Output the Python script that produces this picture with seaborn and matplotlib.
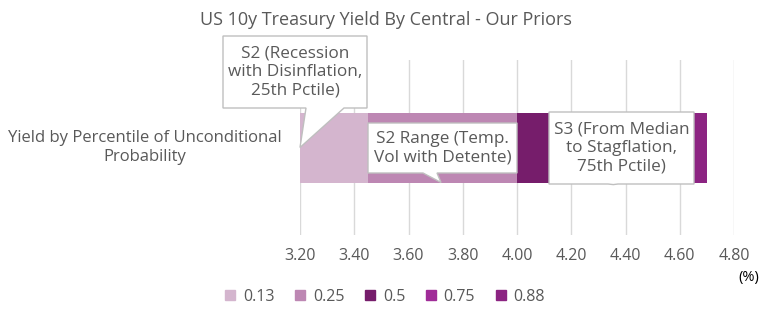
import matplotlib
matplotlib.use("Agg")
import matplotlib.pyplot as plt
import seaborn as sns
import pandas as pd
from matplotlib.patches import Polygon
from matplotlib.lines import Line2D
from matplotlib.transforms import IdentityTransform

# ---- data ----
category = "Yield by Percentile of Unconditional\nProbability"
percentiles = ["0.13", "0.25", "0.5", "0.75", "0.88"]
yield_at_pctile = [3.45, 4.00, 4.14, 4.64, 4.70]   # cumulative yield (%)
colors = ["#D4B5CE", "#BD87B3", "#761D6B", "#A02C98", "#8C2482"]
xticks = [3.20, 3.40, 3.60, 3.80, 4.00, 4.20, 4.40, 4.60, 4.80]

FONT = ["Open Sans", "DejaVu Sans"]
GREY = "#595959"
plt.rcParams["font.family"] = FONT

W, H = 771, 328
fig = plt.figure(figsize=(W / 100, H / 100), dpi=100)
ax = fig.add_axes([300 / W, 1 - 235 / H, 434 / W, 175 / H])

df = pd.DataFrame({"cat": [category] * len(percentiles),
                   "pct": percentiles, "val": yield_at_pctile, "color": colors})
# overlay cumulative bars, largest first -> stacked look
for _, r in df.iloc[::-1].iterrows():
    sns.barplot(x=[r["val"]], y=[r["cat"]], orient="h", color=r["color"],
                width=0.4, saturation=1, ax=ax, zorder=2)

ax.set_xlim(3.2, 4.8)
ax.set_ylim(0.5, -0.5)
ax.set_xticks(xticks)
ax.set_xticklabels([f"{t:.2f}" for t in xticks], color=GREY, fontsize=11.5)
ax.tick_params(axis="x", length=0, pad=9)
ax.set_yticks([])
ax.set_xlabel("")
ax.set_ylabel("")
ax.grid(axis="x", color="#D9D9D9", linewidth=1, zorder=0)
ax.set_axisbelow(True)
for s in ax.spines.values():
    s.set_visible(False)

fig.text(0.5, 1 - 20 / H, "US 10y Treasury Yield By Central - Our Priors",
         ha="center", va="center", fontsize=13, color=GREY)
fig.text(145 / W, 1 - 147 / H, category, ha="center", va="center",
         fontsize=12, color=GREY, linespacing=1.25)
fig.text(749 / W, 1 - 277 / H, "(%)", ha="center", va="center",
         fontsize=10.5, color="black")

# ---- callouts (pixel coords, top origin) ----
def to_disp(x, y):
    return (x, H - y)

def callout(box, base, tip_data, text):
    x0, y0, x1, y1 = box
    tx, ty = ax.transData.transform(tip_data)
    verts = [to_disp(x0, y0), to_disp(x1, y0), to_disp(x1, y1),
             to_disp(base[1], y1), (tx, ty), to_disp(base[0], y1),
             to_disp(x0, y1)]
    p = Polygon(verts, closed=True, facecolor="white", edgecolor="#BFBFBF",
                linewidth=1, transform=IdentityTransform(), zorder=10)
    fig.add_artist(p)
    fig.text((x0 + x1) / 2 / W, 1 - (y0 + y1) / 2 / H, text, ha="center",
             va="center", fontsize=12.3, color=GREY, linespacing=1.2, zorder=11)

callout((223, 36, 367, 108), (306, 344), (3.20, 0.0),
        "S2 (Recession\nwith Disinflation,\n25th Pctile)")
callout((368, 123, 517, 173), (423, 437), (3.72, 0.2),
        "S2 Range (Temp.\nVol with Detente)")
callout((549, 112, 694, 184), (608, 618), (4.355, 0.212),
        "S3 (From Median\nto Stagflation,\n75th Pctile)")

# ---- legend ----
handles = [Line2D([], [], marker="s", linestyle="", markersize=7,
                  markerfacecolor=c, markeredgecolor=c) for c in colors]
fig.legend(handles, percentiles, loc="center left",
           bbox_to_anchor=(224 / W, 1 - 297 / H), ncol=5, frameon=False,
           fontsize=11.5, labelcolor=GREY, handlelength=0.8, handletextpad=0.4,
           columnspacing=1.2, borderaxespad=0, borderpad=0)

fig.savefig("out.png", dpi=100)
